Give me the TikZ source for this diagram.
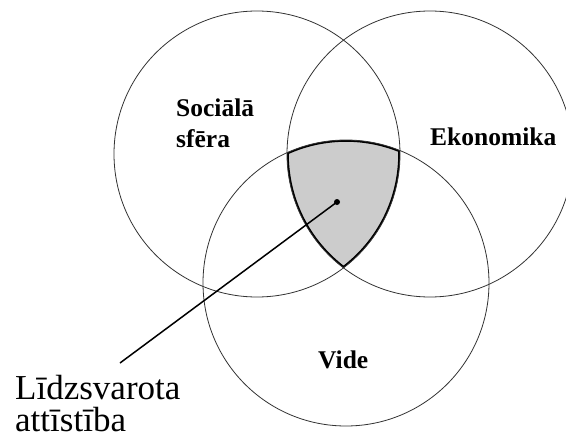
\documentclass[tikz,border=0pt]{standalone}
\usepackage{fontspec}
\setmainfont{Liberation Serif}
\begin{document}
\begin{tikzpicture}[x=1pt,y=-1pt,
  ring/.style={draw=black!80, line width=0.8pt},
  rim/.style={draw=black, line width=3.6pt},
  setlabel/.style={font=\fontsize{25.5}{31}\selectfont\bfseries, inner sep=0pt, anchor=base west},
  biglabel/.style={font=\fontsize{35}{32}\selectfont, inner sep=0pt, align=left, anchor=base west}]
\useasboundingbox (0,0) rectangle (566,439);
\fill[white] (0,0) rectangle (566,439);
\coordinate (cS) at (257,154);
\coordinate (cE) at (430,154);
\coordinate (cV) at (346,283);
% shaded common region
\begin{scope}
  \clip (cS) circle (143pt);
  \clip (cE) circle (143pt);
  \clip (cV) circle (143pt);
  \fill[black!20] (200,100) rectangle (450,300);
  \draw[rim] (cS) circle (143pt);
  \draw[rim] (cE) circle (143pt);
  \draw[rim] (cV) circle (143pt);
\end{scope}
% circles
\draw[ring] (cS) circle (143pt);
\draw[ring] (cE) circle (143pt);
\draw[ring] (cV) circle (143pt);
% labels
\node[setlabel, align=left] (soc) at (176,147) {Sociālā\\sfēra};
\node[setlabel] (eko) at (430,145) {Ekonomika};
\node[setlabel] (vide) at (318,368) {Vide};
\node[biglabel] (ld) at (15,431) {Līdzsvarota\\attīstība};
% pointer
\node[circle, fill=black, inner sep=0pt, minimum size=6pt] (dot) at (337,202) {};
\coordinate (tail) at (120,363);
\draw[line width=1.5pt] (dot.center) -- (tail);
\end{tikzpicture}
\end{document}
